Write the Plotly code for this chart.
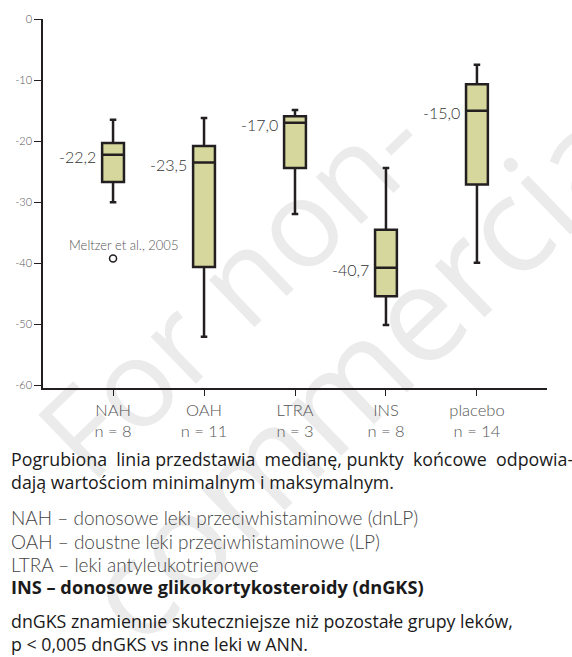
import plotly.graph_objects as go

# ---- data ----
categories = ["NAH", "OAH", "LTRA", "INS", "placebo"]
n_counts = [8, 11, 3, 8, 14]
upper_whisker = [-16.5, -16.2, -14.9, -24.4, -7.5]
q3_values = [-20.3, -20.8, -15.9, -34.5, -10.7]
medians = [-22.2, -23.5, -17.0, -40.7, -15.0]
q1_values = [-26.7, -40.6, -24.4, -45.4, -27.1]
lower_whisker = [-30.0, -52.0, -31.9, -50.1, -39.9]
outlier_label = "Meltzer et al., 2005"
outlier_cat = 0
outlier_value = -39.2
y_ticks = [0, -10, -20, -30, -40, -50, -60]

NB = "\u00a0"
caption_lines = [
    (f"Pogrubiona {NB}linia przedstawia {NB}medianę, punkty {NB}końcowe {NB}odpowia-", "dark"),
    ("dają wartościom minimalnym i maksymalnym.", "dark"),
    ("NAH – donosowe leki przeciwhistaminowe (dnLP)", "light"),
    ("OAH – doustne leki przeciwhistaminowe (LP)", "light"),
    ("LTRA – leki antyleukotrienowe", "light"),
    ("<b>INS – donosowe glikokortykosteroidy (dnGKS)</b>", "bold"),
    ("dnGKS znamiennie skuteczniejsze niż pozostałe grupy leków,", "dark"),
    ("p < 0,005 dnGKS vs inne leki w ANN.", "dark"),
]
caption_y_px = [460, 483, 519, 543, 566, 589, 623, 646]
watermark = [("For non-", 236, 290, 122), ("commercial", 372, 366, 134)]

W, H = 572, 657
L, R, T, B = 43, 547, 16, 388
FONT = "Lato"
DARK = "#231f20"


def px(x, y):
    return (x - L) / (R - L), (B - y) / (B - T)


xpos = list(range(len(categories)))

fig = go.Figure()
fig.add_trace(go.Box(
    x=xpos,
    q1=q1_values, median=medians, q3=q3_values,
    lowerfence=lower_whisker, upperfence=upper_whisker,
    fillcolor="#d6d79d",
    line=dict(color=DARK, width=2.5),
    width=0.24,
    whiskerwidth=0.3,
    boxpoints=False,
    hoverinfo="skip",
    showlegend=False,
))

fig.add_trace(go.Scatter(
    x=[outlier_cat], y=[outlier_value], mode="markers",
    marker=dict(symbol="circle-open", size=7, color=DARK, line=dict(width=1.5)),
    showlegend=False, hoverinfo="skip",
))

shapes = []
for txt, cx, cy, fs in watermark:
    x0, y0 = px(cx - 5, cy + 5)
    x1, y1 = px(cx + 5, cy - 5)
    shapes.append(dict(
        type="rect", xref="paper", yref="paper", x0=x0, x1=x1, y0=y0, y1=y1,
        line=dict(width=0), fillcolor="rgba(0,0,0,0)", layer="below",
        label=dict(text=txt, textangle=-44, textposition="middle center",
                   font=dict(family="Open Sans", size=fs, color="#ebebeb")),
    ))

annotations = []
for i, m in enumerate(medians):
    annotations.append(dict(
        text=f"{m:.1f}".replace(".", ","), x=i - 0.12, y=m,
        xref="x", yref="y", xanchor="right", yanchor="middle",
        xshift=-4, yshift=-2, showarrow=False,
        font=dict(family=FONT, size=16, color="#333333", weight=300),
    ))

annotations.append(dict(
    text=outlier_label, x=outlier_cat, y=outlier_value, xref="x", yref="y",
    xshift=10, yshift=13, showarrow=False,
    font=dict(family=FONT, size=13, color="#555555", weight=300),
))

for (txt, style), ypx in zip(caption_lines, caption_y_px):
    xp, yp = px(9, ypx)
    if style == "light":
        f = dict(family=FONT, size=19, color="#444444", weight=300)
    elif style == "bold":
        f = dict(family="Open Sans", size=18.2, color="#1a1a1a")
    else:
        f = dict(family="Open Sans", size=17.8, color="#1a1a1a")
    annotations.append(dict(
        text=txt, x=xp, y=yp, xref="paper", yref="paper",
        xanchor="left", yanchor="middle", showarrow=False, font=f,
    ))

fig.update_layout(
    width=W, height=H,
    margin=dict(l=L, r=W - R, t=T, b=H - B),
    paper_bgcolor="white", plot_bgcolor="rgba(0,0,0,0)",
    annotations=annotations,
    shapes=shapes,
    xaxis=dict(
        range=[-0.77, 4.77],
        tickvals=xpos,
        ticktext=[f"{c}<br>n = {n}" for c, n in zip(categories, n_counts)],
        showline=True, linecolor=DARK, linewidth=1.5,
        ticks="outside", ticklen=6, tickcolor=DARK, tickwidth=1,
        showgrid=False, zeroline=False,
        tickfont=dict(family=FONT, size=16.5, color="#555555", weight=300),
    ),
    yaxis=dict(
        range=[-60.4, 0],
        tickvals=y_ticks,
        ticktext=[str(v) for v in y_ticks],
        showline=True, linecolor=DARK, linewidth=1.5,
        ticks="outside", ticklen=7, tickcolor=DARK, tickwidth=1,
        showgrid=False, zeroline=False,
        tickfont=dict(family=FONT, size=11, color="#555555", weight=300),
    ),
)

fig.write_html("out.html")
